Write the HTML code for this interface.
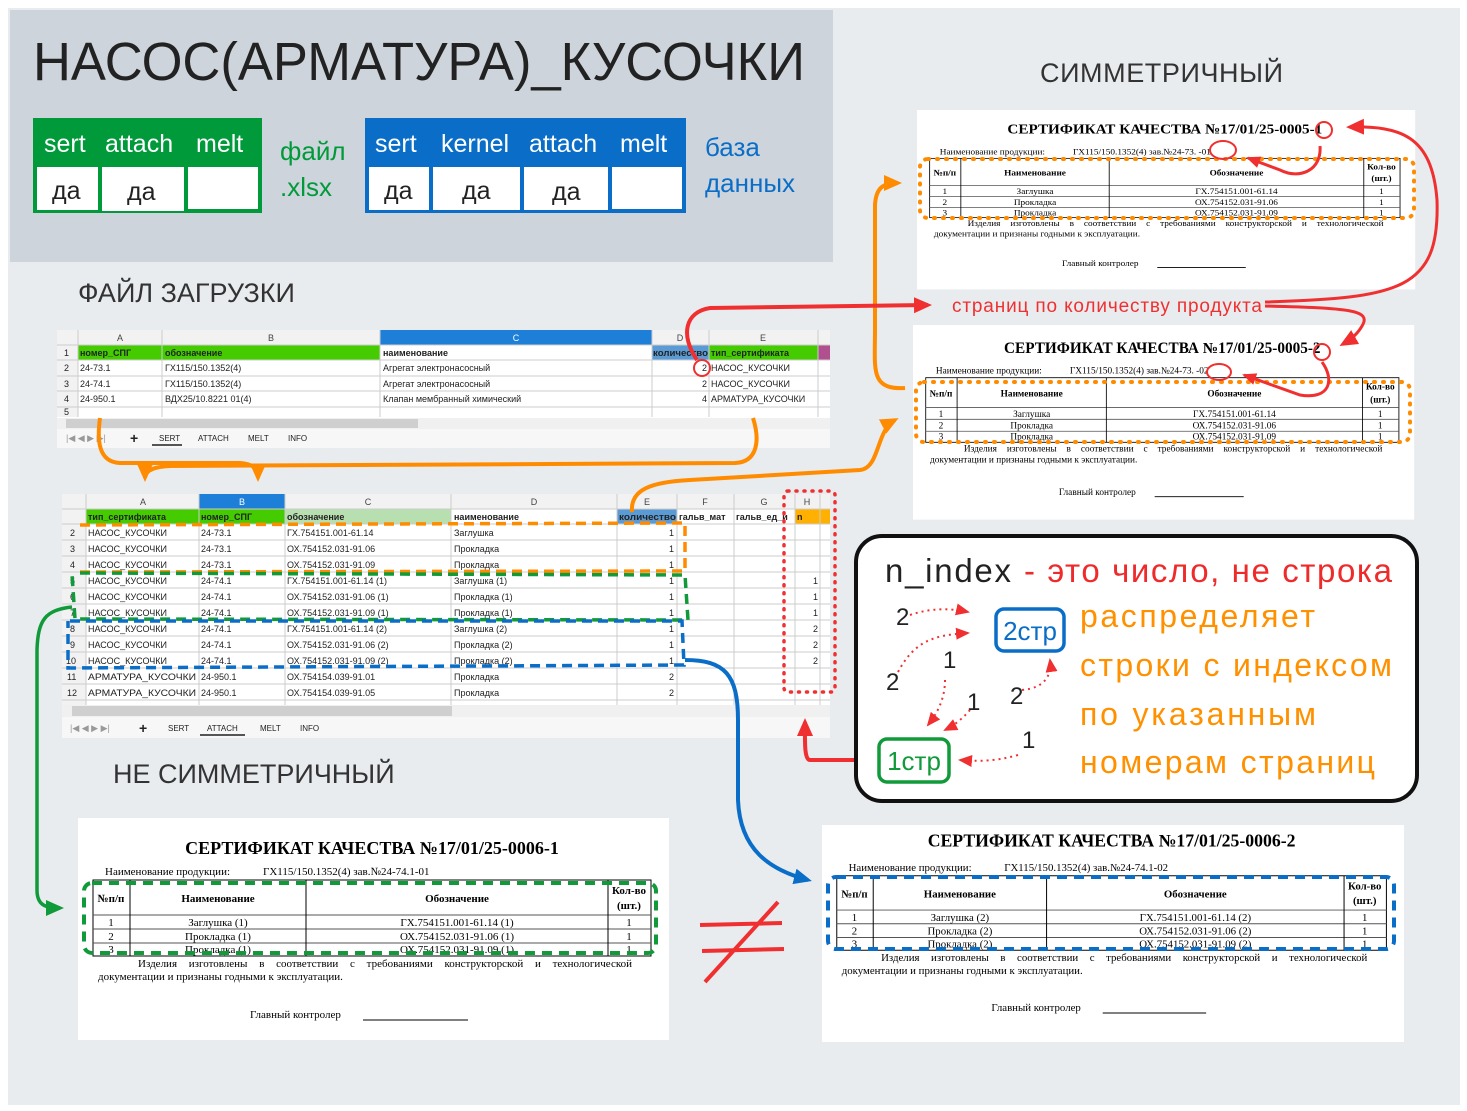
<!DOCTYPE html>
<html><head><meta charset="utf-8"><style>
html,body{margin:0;padding:0;background:#fff;}
svg{display:block;}
text{font-family:"Liberation Sans","DejaVu Sans",sans-serif;}
.s{font-family:"Liberation Serif",serif;}
</style></head><body>
<svg width="1467" height="1111" viewBox="0 0 1467 1111" xmlns="http://www.w3.org/2000/svg">
<defs>
<marker id="ar" markerWidth="20" markerHeight="20" refX="14" refY="8" orient="auto" markerUnits="userSpaceOnUse"><path d="M0,0 L18,8 L0,16 Z" fill="#f03030"/></marker>
<marker id="ar2" markerWidth="20" markerHeight="20" refX="12" refY="6" orient="auto" markerUnits="userSpaceOnUse"><path d="M0,0 L14,6 L0,12 Z" fill="#f03030"/></marker>
<marker id="aor" markerWidth="20" markerHeight="20" refX="14" refY="8" orient="auto" markerUnits="userSpaceOnUse"><path d="M0,0 L18,8 L0,16 Z" fill="#ff8c00"/></marker>
<marker id="ag" markerWidth="20" markerHeight="20" refX="14" refY="8" orient="auto" markerUnits="userSpaceOnUse"><path d="M0,0 L18,8 L0,16 Z" fill="#119a3a"/></marker>
<marker id="ab" markerWidth="20" markerHeight="20" refX="14" refY="8" orient="auto" markerUnits="userSpaceOnUse"><path d="M0,0 L18,8 L0,16 Z" fill="#0a6ec8"/></marker>
<g id="tbl">
<rect x="15" y="62" width="558" height="76" fill="#fff" stroke="#000" stroke-width="1"/>
<line x1="15" y1="97" x2="573" y2="97" stroke="#555"/>
<line x1="15" y1="111" x2="573" y2="111" stroke="#555"/>
<line x1="15" y1="125" x2="573" y2="125" stroke="#555"/>
<line x1="52" y1="62" x2="52" y2="138" stroke="#000"/>
<line x1="228" y1="62" x2="228" y2="138" stroke="#000"/>
<line x1="530" y1="62" x2="530" y2="138" stroke="#000"/>
<text class="s" x="33" y="84" font-size="11" font-weight="bold" text-anchor="middle">№п/п</text>
<text class="s" x="140" y="84" font-size="11" font-weight="bold" text-anchor="middle">Наименование</text>
<text class="s" x="379" y="84" font-size="11" font-weight="bold" text-anchor="middle">Обозначение</text>
<text class="s" x="551" y="76" font-size="11" font-weight="bold" text-anchor="middle">Кол-во</text>
<text class="s" x="551" y="91" font-size="11" font-weight="bold" text-anchor="middle">(шт.)</text>
<text class="s" x="33" y="108" font-size="11" text-anchor="middle">1</text>
<text class="s" x="33" y="122" font-size="11" text-anchor="middle">2</text>
<text class="s" x="33" y="135" font-size="11" text-anchor="middle">3</text>
<text class="s" x="551" y="108" font-size="11" text-anchor="middle">1</text>
<text class="s" x="551" y="122" font-size="11" text-anchor="middle">1</text>
<text class="s" x="551" y="135" font-size="11" text-anchor="middle">1</text>
<text class="s" x="60" y="149" font-size="11" word-spacing="9">Изделия изготовлены в соответствии с требованиями конструкторской и технологической</text>
<text class="s" x="20" y="162" font-size="11">документации и признаны годными к эксплуатации.</text>
<text class="s" x="172" y="200" font-size="11">Главный контролер</text>
<line x1="285" y1="202" x2="390" y2="202" stroke="#000"/>
<text class="s" x="27" y="57" font-size="11">Наименование продукции:</text>
</g>
</defs>

<rect x="0" y="0" width="1467" height="1111" fill="#fff"/>
<rect x="8" y="8" width="1452" height="1097" fill="#e8ecef"/>
<rect x="10" y="10" width="823" height="252" fill="#cdd4db"/>

<text x="33" y="80" font-size="54" fill="#222" textLength="772" lengthAdjust="spacingAndGlyphs">НАСОС(АРМАТУРА)_КУСОЧКИ</text>

<rect x="33" y="118" width="229" height="95" fill="#009a3a"/>
<text x="44" y="152" font-size="25" fill="#fff">sert</text>
<text x="105" y="152" font-size="25" fill="#fff">attach</text>
<text x="196" y="152" font-size="25" fill="#fff">melt</text>
<rect x="37" y="167" width="61" height="43" fill="#fff"/>
<rect x="102" y="167" width="82" height="44" fill="#fff"/>
<rect x="188" y="167" width="70" height="42" fill="#fff"/>
<text x="52" y="199" font-size="25" fill="#222">да</text>
<text x="127" y="200" font-size="25" fill="#222">да</text>
<text x="280" y="160" font-size="26" fill="#009a3a">файл</text>
<text x="280" y="196" font-size="26" fill="#009a3a">.xlsx</text>

<rect x="365" y="118" width="321" height="95" fill="#0a6ec8"/>
<text x="375" y="152" font-size="25" fill="#fff">sert</text>
<text x="441" y="152" font-size="25" fill="#fff">kernel</text>
<text x="529" y="152" font-size="25" fill="#fff">attach</text>
<text x="620" y="152" font-size="25" fill="#fff">melt</text>
<rect x="369" y="167" width="60" height="43" fill="#fff"/>
<rect x="433" y="167" width="87" height="43" fill="#fff"/>
<rect x="524" y="167" width="84" height="43" fill="#fff"/>
<rect x="612" y="167" width="70" height="42" fill="#fff"/>
<text x="384" y="199" font-size="25" fill="#222">да</text>
<text x="462" y="199" font-size="25" fill="#222">да</text>
<text x="552" y="200" font-size="25" fill="#222">да</text>
<text x="705" y="156" font-size="26" fill="#0a6ec8">база</text>
<text x="705" y="192" font-size="26" fill="#0a6ec8">данных</text>

<text x="1040" y="82" font-size="27" fill="#333" textLength="243">СИММЕТРИЧНЫЙ</text>
<text x="78" y="302" font-size="27" fill="#333">ФАЙЛ ЗАГРУЗКИ</text>
<text x="113" y="783" font-size="27" fill="#333">НЕ СИММЕТРИЧНЫЙ</text>

<!-- sheet 1 -->
<g font-size="9" fill="#222">
<rect x="57" y="330" width="773" height="118" fill="#fff"/>
<rect x="57" y="330" width="773" height="15" fill="#f2f2f2"/>
<rect x="380" y="330" width="272" height="15" fill="#1e7fd8"/>
<rect x="78" y="345" width="302" height="15" fill="#44cc00"/>
<rect x="652" y="345" width="57" height="15" fill="#5b9bd5"/>
<rect x="709" y="345" width="109" height="15" fill="#44cc00"/>
<rect x="818" y="345" width="12" height="15" fill="#b0508f"/>
<rect x="57" y="345" width="21" height="72" fill="#f2f2f2"/>
<g stroke="#ccc" stroke-width="1">
<line x1="57" y1="345" x2="830" y2="345"/><line x1="57" y1="360" x2="830" y2="360"/><line x1="57" y1="376" x2="830" y2="376"/><line x1="57" y1="391" x2="830" y2="391"/><line x1="57" y1="407" x2="830" y2="407"/>
<line x1="78" y1="330" x2="78" y2="417"/><line x1="162" y1="330" x2="162" y2="417"/><line x1="380" y1="330" x2="380" y2="417"/><line x1="652" y1="330" x2="652" y2="417"/><line x1="709" y1="330" x2="709" y2="417"/><line x1="818" y1="330" x2="818" y2="417"/>
</g>
<text x="120" y="341" text-anchor="middle" fill="#444">A</text><text x="271" y="341" text-anchor="middle" fill="#444">B</text><text x="516" y="341" text-anchor="middle" fill="#fff">C</text><text x="680" y="341" text-anchor="middle" fill="#444">D</text><text x="763" y="341" text-anchor="middle" fill="#444">E</text>
<text x="64" y="356">1</text><text x="64" y="371">2</text><text x="64" y="387">3</text><text x="64" y="402">4</text><text x="64" y="415">5</text>
<text x="80" y="356" font-weight="bold">номер_СПГ</text><text x="165" y="356" font-weight="bold">обозначение</text><text x="383" y="356" font-weight="bold">наименование</text><text x="653" y="356" font-weight="bold" textLength="55" lengthAdjust="spacingAndGlyphs">количество</text><text x="711" y="356" font-weight="bold">тип_сертификата</text>
<text x="80" y="371">24-73.1</text><text x="165" y="371">ГХ115/150.1352(4)</text><text x="383" y="371">Агрегат электронасосный</text><text x="707" y="371" text-anchor="end">2</text><text x="711" y="371">НАСОС_КУСОЧКИ</text>
<text x="80" y="387">24-74.1</text><text x="165" y="387">ГХ115/150.1352(4)</text><text x="383" y="387">Агрегат электронасосный</text><text x="707" y="387" text-anchor="end">2</text><text x="711" y="387">НАСОС_КУСОЧКИ</text>
<text x="80" y="402">24-950.1</text><text x="165" y="402">ВДХ25/10.8221 01(4)</text><text x="383" y="402">Клапан мембранный химический</text><text x="707" y="402" text-anchor="end">4</text><text x="711" y="402">АРМАТУРА_КУСОЧКИ</text>
<rect x="57" y="418" width="773" height="11" fill="#f0f0f0"/><rect x="66" y="419" width="352" height="9" fill="#cfcfcf"/>
<rect x="57" y="429" width="773" height="19" fill="#f7f7f7"/>
<text x="66" y="441" fill="#999">|◀ ◀ ▶ ▶|</text><text x="130" y="443" font-size="14" font-weight="bold">+</text>
<text x="159" y="441" font-size="8">SERT</text><line x1="152" y1="445" x2="182" y2="445" stroke="#555" stroke-width="2"/>
<text x="198" y="441" font-size="8">ATTACH</text><text x="248" y="441" font-size="8">MELT</text><text x="288" y="441" font-size="8">INFO</text>
</g>

<!-- sheet 2 -->
<g font-size="9" fill="#222">
<rect x="62" y="494" width="768" height="244" fill="#fff"/>
<rect x="62" y="494" width="768" height="15" fill="#f2f2f2"/>
<rect x="199" y="494" width="86" height="15" fill="#1e7fd8"/>
<rect x="86" y="509" width="199" height="15" fill="#44cc00"/>
<rect x="285" y="509" width="166" height="15" fill="#b7dfb0"/>
<rect x="617" y="509" width="60" height="15" fill="#5b9bd5"/>
<rect x="795" y="509" width="35" height="15" fill="#ffb000"/>
<rect x="62" y="509" width="24" height="196" fill="#f2f2f2"/>
<g stroke="#ccc">
<line x1="62" y1="509" x2="830" y2="509"/><line x1="62" y1="524" x2="830" y2="524"/><line x1="62" y1="540" x2="830" y2="540"/><line x1="62" y1="556" x2="830" y2="556"/><line x1="62" y1="572" x2="830" y2="572"/><line x1="62" y1="588" x2="830" y2="588"/><line x1="62" y1="604" x2="830" y2="604"/><line x1="62" y1="620" x2="830" y2="620"/><line x1="62" y1="636" x2="830" y2="636"/><line x1="62" y1="652" x2="830" y2="652"/><line x1="62" y1="668" x2="830" y2="668"/><line x1="62" y1="684" x2="830" y2="684"/><line x1="62" y1="700" x2="830" y2="700"/>
<line x1="86" y1="494" x2="86" y2="705"/><line x1="199" y1="494" x2="199" y2="705"/><line x1="285" y1="494" x2="285" y2="705"/><line x1="451" y1="494" x2="451" y2="705"/><line x1="617" y1="494" x2="617" y2="705"/><line x1="677" y1="494" x2="677" y2="705"/><line x1="734" y1="494" x2="734" y2="705"/><line x1="795" y1="494" x2="795" y2="705"/><line x1="820" y1="494" x2="820" y2="705"/>
</g>
<text x="143" y="505" text-anchor="middle" fill="#444">A</text><text x="242" y="505" text-anchor="middle" fill="#fff">B</text><text x="368" y="505" text-anchor="middle" fill="#444">C</text><text x="534" y="505" text-anchor="middle" fill="#444">D</text><text x="647" y="505" text-anchor="middle" fill="#444">E</text><text x="705" y="505" text-anchor="middle" fill="#444">F</text><text x="764" y="505" text-anchor="middle" fill="#444">G</text><text x="807" y="505" text-anchor="middle" fill="#444">H</text>
<text x="88" y="520" font-weight="bold">тип_сертификата</text><text x="201" y="520" font-weight="bold">номер_СПГ</text><text x="287" y="520" font-weight="bold">обозначение</text><text x="454" y="520" font-weight="bold">наименование</text><text x="619" y="520" font-weight="bold" textLength="57" lengthAdjust="spacingAndGlyphs">количество</text><text x="679" y="520" font-weight="bold">гальв_мат</text><text x="736" y="520" font-weight="bold">гальв_ед_и</text><text x="797" y="520" font-weight="bold">n</text>
<g>
<text x="70" y="536">2</text><text x="88" y="536">НАСОС_КУСОЧКИ</text><text x="201" y="536">24-73.1</text><text x="287" y="536">ГХ.754151.001-61.14</text><text x="454" y="536">Заглушка</text><text x="674" y="536" text-anchor="end">1</text>
<text x="70" y="552">3</text><text x="88" y="552">НАСОС_КУСОЧКИ</text><text x="201" y="552">24-73.1</text><text x="287" y="552">ОХ.754152.031-91.06</text><text x="454" y="552">Прокладка</text><text x="674" y="552" text-anchor="end">1</text>
<text x="70" y="568">4</text><text x="88" y="568">НАСОС_КУСОЧКИ</text><text x="201" y="568">24-73.1</text><text x="287" y="568">ОХ.754152.031-91.09</text><text x="454" y="568">Прокладка</text><text x="674" y="568" text-anchor="end">1</text>
<text x="70" y="584">5</text><text x="88" y="584">НАСОС_КУСОЧКИ</text><text x="201" y="584">24-74.1</text><text x="287" y="584">ГХ.754151.001-61.14 (1)</text><text x="454" y="584">Заглушка (1)</text><text x="674" y="584" text-anchor="end">1</text><text x="818" y="584" text-anchor="end">1</text>
<text x="70" y="600">6</text><text x="88" y="600">НАСОС_КУСОЧКИ</text><text x="201" y="600">24-74.1</text><text x="287" y="600">ОХ.754152.031-91.06 (1)</text><text x="454" y="600">Прокладка (1)</text><text x="674" y="600" text-anchor="end">1</text><text x="818" y="600" text-anchor="end">1</text>
<text x="70" y="616">7</text><text x="88" y="616">НАСОС_КУСОЧКИ</text><text x="201" y="616">24-74.1</text><text x="287" y="616">ОХ.754152.031-91.09 (1)</text><text x="454" y="616">Прокладка (1)</text><text x="674" y="616" text-anchor="end">1</text><text x="818" y="616" text-anchor="end">1</text>
<text x="70" y="632">8</text><text x="88" y="632">НАСОС_КУСОЧКИ</text><text x="201" y="632">24-74.1</text><text x="287" y="632">ГХ.754151.001-61.14 (2)</text><text x="454" y="632">Заглушка (2)</text><text x="674" y="632" text-anchor="end">1</text><text x="818" y="632" text-anchor="end">2</text>
<text x="70" y="648">9</text><text x="88" y="648">НАСОС_КУСОЧКИ</text><text x="201" y="648">24-74.1</text><text x="287" y="648">ОХ.754152.031-91.06 (2)</text><text x="454" y="648">Прокладка (2)</text><text x="674" y="648" text-anchor="end">1</text><text x="818" y="648" text-anchor="end">2</text>
<text x="66" y="664">10</text><text x="88" y="664">НАСОС_КУСОЧКИ</text><text x="201" y="664">24-74.1</text><text x="287" y="664">ОХ.754152.031-91.09 (2)</text><text x="454" y="664">Прокладка (2)</text><text x="674" y="664" text-anchor="end">1</text><text x="818" y="664" text-anchor="end">2</text>
<text x="67" y="680">11</text><text x="88" y="680" textLength="108" lengthAdjust="spacingAndGlyphs">АРМАТУРА_КУСОЧКИ</text><text x="201" y="680">24-950.1</text><text x="287" y="680">ОХ.754154.039-91.01</text><text x="454" y="680">Прокладка</text><text x="674" y="680" text-anchor="end">2</text>
<text x="67" y="696">12</text><text x="88" y="696" textLength="108" lengthAdjust="spacingAndGlyphs">АРМАТУРА_КУСОЧКИ</text><text x="201" y="696">24-950.1</text><text x="287" y="696">ОХ.754154.039-91.05</text><text x="454" y="696">Прокладка</text><text x="674" y="696" text-anchor="end">2</text>
</g>
<rect x="62" y="705" width="768" height="12" fill="#f0f0f0"/><rect x="72" y="706" width="380" height="10" fill="#cfcfcf"/>
<rect x="62" y="717" width="768" height="21" fill="#f7f7f7"/>
<text x="70" y="731" fill="#999">|◀ ◀ ▶ ▶|</text><text x="139" y="733" font-size="14" font-weight="bold">+</text>
<text x="168" y="731" font-size="8">SERT</text><text x="207" y="731" font-size="8">ATTACH</text><line x1="200" y1="735" x2="245" y2="735" stroke="#555" stroke-width="2"/>
<text x="260" y="731" font-size="8">MELT</text><text x="300" y="731" font-size="8">INFO</text>
</g>

<!-- certificates -->
<g transform="translate(917,110) scale(0.843,0.78)">
<rect x="0" y="0" width="591" height="230" fill="#fff"/>
<use href="#tbl"/>
<text class="s" x="294" y="30" font-size="18" font-weight="bold" text-anchor="middle">СЕРТИФИКАТ КАЧЕСТВА №17/01/25-0005-1</text>
<text class="s" x="185" y="57" font-size="11">ГХ115/150.1352(4) зав.№24-73.  -01</text>
<text class="s" x="140" y="108" font-size="11" text-anchor="middle">Заглушка</text><text class="s" x="379" y="108" font-size="11" text-anchor="middle">ГХ.754151.001-61.14</text>
<text class="s" x="140" y="122" font-size="11" text-anchor="middle">Прокладка</text><text class="s" x="379" y="122" font-size="11" text-anchor="middle">ОХ.754152.031-91.06</text>
<text class="s" x="140" y="135" font-size="11" text-anchor="middle">Прокладка</text><text class="s" x="379" y="135" font-size="11" text-anchor="middle">ОХ.754152.031-91.09</text>
</g>
<g transform="translate(913,325) scale(0.848,0.85)">
<rect x="0" y="0" width="591" height="229" fill="#fff"/>
<use href="#tbl"/>
<text class="s" x="294" y="33" font-size="18" font-weight="bold" text-anchor="middle">СЕРТИФИКАТ КАЧЕСТВА №17/01/25-0005-2</text>
<text class="s" x="185" y="57" font-size="11">ГХ115/150.1352(4) зав.№24-73.  -02</text>
<text class="s" x="140" y="108" font-size="11" text-anchor="middle">Заглушка</text><text class="s" x="379" y="108" font-size="11" text-anchor="middle">ГХ.754151.001-61.14</text>
<text class="s" x="140" y="122" font-size="11" text-anchor="middle">Прокладка</text><text class="s" x="379" y="122" font-size="11" text-anchor="middle">ОХ.754152.031-91.06</text>
<text class="s" x="140" y="135" font-size="11" text-anchor="middle">Прокладка</text><text class="s" x="379" y="135" font-size="11" text-anchor="middle">ОХ.754152.031-91.09</text>
</g>
<g transform="translate(78,818)">
<rect x="0" y="0" width="591" height="222" fill="#fff"/>
<use href="#tbl"/>
<text class="s" x="294" y="36" font-size="18" font-weight="bold" text-anchor="middle">СЕРТИФИКАТ КАЧЕСТВА №17/01/25-0006-1</text>
<text class="s" x="185" y="57" font-size="11">ГХ115/150.1352(4) зав.№24-74.1-01</text>
<text class="s" x="140" y="108" font-size="11" text-anchor="middle">Заглушка (1)</text><text class="s" x="379" y="108" font-size="11" text-anchor="middle">ГХ.754151.001-61.14 (1)</text>
<text class="s" x="140" y="122" font-size="11" text-anchor="middle">Прокладка (1)</text><text class="s" x="379" y="122" font-size="11" text-anchor="middle">ОХ.754152.031-91.06 (1)</text>
<text class="s" x="140" y="135" font-size="11" text-anchor="middle">Прокладка (1)</text><text class="s" x="379" y="135" font-size="11" text-anchor="middle">ОХ.754152.031-91.09 (1)</text>
</g>
<rect x="822" y="825" width="582" height="217" fill="#fff"/>
<g transform="translate(822,815) scale(0.985,0.98)">
<use href="#tbl"/>
<text class="s" x="294" y="32" font-size="18" font-weight="bold" text-anchor="middle">СЕРТИФИКАТ КАЧЕСТВА №17/01/25-0006-2</text>
<text class="s" x="185" y="57" font-size="11">ГХ115/150.1352(4) зав.№24-74.1-02</text>
<text class="s" x="140" y="108" font-size="11" text-anchor="middle">Заглушка (2)</text><text class="s" x="379" y="108" font-size="11" text-anchor="middle">ГХ.754151.001-61.14 (2)</text>
<text class="s" x="140" y="122" font-size="11" text-anchor="middle">Прокладка (2)</text><text class="s" x="379" y="122" font-size="11" text-anchor="middle">ОХ.754152.031-91.06 (2)</text>
<text class="s" x="140" y="135" font-size="11" text-anchor="middle">Прокладка (2)</text><text class="s" x="379" y="135" font-size="11" text-anchor="middle">ОХ.754152.031-91.09 (2)</text>
</g>

<!-- dashed outlines -->
<rect x="920" y="159" width="494" height="59" rx="8" fill="none" stroke="#ff8c00" stroke-width="4" stroke-dasharray="1 8" stroke-linecap="round"/>
<rect x="916" y="382" width="494" height="60" rx="8" fill="none" stroke="#ff8c00" stroke-width="4" stroke-dasharray="1 8" stroke-linecap="round"/>
<rect x="84" y="883" width="572" height="70" rx="8" fill="none" stroke="#119a3a" stroke-width="4" stroke-dasharray="10 7"/>
<rect x="828" y="877" width="566" height="72" rx="8" fill="none" stroke="#0a6ec8" stroke-width="4" stroke-dasharray="10 7"/>
<path d="M80,525 L685,523 L685,571 L80,572" fill="none" stroke="#ff8c00" stroke-width="3.5" stroke-dasharray="10 6"/>
<path d="M80,573 L685,575 L688,620 L75,619 L72,574" fill="none" stroke="#119a3a" stroke-width="3.5" stroke-dasharray="10 6"/>
<path d="M70,621 L682,621 L684,665 L68,668 L68,621" fill="none" stroke="#0a6ec8" stroke-width="3.5" stroke-dasharray="10 6"/>
<rect x="784" y="491" width="51" height="201" rx="4" fill="none" stroke="#f03030" stroke-width="3.5" stroke-dasharray="1 7" stroke-linecap="round"/>

<!-- orange connectors -->
<path d="M100,418 C97,440 98,462 120,463 L240,463 C255,464 258,470 258,478" fill="none" stroke="#ff8c00" stroke-width="4" marker-end="url(#aor)"/>
<path d="M753,418 C760,440 758,462 735,463 L170,466 C150,467 145,472 145,478" fill="none" stroke="#ff8c00" stroke-width="4" marker-end="url(#aor)"/>
<path d="M632,512 C630,490 650,482 690,480 L860,470 C880,468 876,430 895,420" fill="none" stroke="#ff8c00" stroke-width="4" marker-end="url(#aor)"/>
<path d="M905,388 C870,390 875,370 875,330 L875,205 C876,186 885,183 898,183" fill="none" stroke="#ff8c00" stroke-width="4" marker-end="url(#aor)"/>

<!-- red connectors -->
<circle cx="702" cy="368" r="8" fill="none" stroke="#f03030" stroke-width="2"/>
<path d="M697,360 C680,335 685,312 710,308 L928,305" fill="none" stroke="#f03030" stroke-width="4" marker-end="url(#ar)"/>
<text x="952" y="312" font-size="19" fill="#f03030" textLength="310">страниц по количеству продукта</text>
<path d="M1265,302 C1400,298 1440,290 1437,200 C1432,135 1400,126 1350,127" fill="none" stroke="#f03030" stroke-width="3" marker-end="url(#ar)"/>
<path d="M1265,306 C1350,308 1372,310 1362,326 C1357,335 1350,340 1343,344" fill="none" stroke="#f03030" stroke-width="3" marker-end="url(#ar)"/>
<circle cx="1324" cy="130" r="8" fill="none" stroke="#f03030" stroke-width="2"/>
<ellipse cx="1223" cy="150" rx="13" ry="9" fill="none" stroke="#f03030" stroke-width="2"/>
<path d="M1320,146 C1322,170 1300,180 1280,170 L1248,158" fill="none" stroke="#f03030" stroke-width="3" marker-end="url(#ar2)"/>
<circle cx="1322" cy="352" r="8" fill="none" stroke="#f03030" stroke-width="2"/>
<ellipse cx="1219" cy="372" rx="12" ry="8" fill="none" stroke="#f03030" stroke-width="2"/>
<path d="M1322,362 C1335,380 1330,400 1300,395 L1244,375" fill="none" stroke="#f03030" stroke-width="3" marker-end="url(#ar2)"/>
<path d="M855,760 L810,760 C804,760 805,740 805,722" fill="none" stroke="#f03030" stroke-width="4" marker-end="url(#ar)"/>

<!-- green & blue connectors -->
<path d="M72,607 C45,610 38,620 37,650 L37,890 C37,905 45,908 60,908" fill="none" stroke="#119a3a" stroke-width="3.5" marker-end="url(#ag)"/>
<path d="M685,660 C725,660 738,675 738,720 L738,800 C740,850 770,870 808,880" fill="none" stroke="#0a6ec8" stroke-width="4" marker-end="url(#ab)"/>

<path d="M700,925 L782,923 M702,951 L784,949 M778,902 L705,982" stroke="#f03030" stroke-width="4" fill="none"/>

<!-- n_index box -->
<rect x="856" y="536" width="561" height="265" rx="26" fill="#fff" stroke="#111" stroke-width="4"/>
<text x="885" y="582" font-size="33" fill="#222" textLength="126">n_index</text>
<text x="1024" y="582" font-size="33" fill="#ee2a2a" textLength="368">- это число, не строка</text>
<g font-size="32" fill="#ff9000">
<text x="1080" y="627" textLength="235">распределяет</text>
<text x="1080" y="676" textLength="312">строки с индексом</text>
<text x="1080" y="725" textLength="236">по указанным</text>
<text x="1080" y="773" textLength="295">номерам страниц</text>
</g>
<rect x="996" y="609" width="68" height="42" rx="8" fill="#fff" stroke="#0a6ec8" stroke-width="3.5"/>
<text x="1030" y="640" font-size="26" fill="#0a6ec8" text-anchor="middle">2стр</text>
<rect x="879" y="739" width="70" height="43" rx="8" fill="#fff" stroke="#119a3a" stroke-width="3.5"/>
<text x="914" y="770" font-size="26" fill="#119a3a" text-anchor="middle">1стр</text>
<g font-size="24" fill="#222">
<text x="896" y="625">2</text><text x="886" y="690">2</text><text x="943" y="668">1</text><text x="967" y="710">1</text><text x="1010" y="704">2</text><text x="1022" y="748">1</text>
</g>
<g fill="none" stroke="#f03030" stroke-width="2" stroke-dasharray="2 4">
<path d="M910,615 C930,608 950,608 968,612" marker-end="url(#ar2)"/>
<path d="M898,672 C915,640 935,635 968,633" marker-end="url(#ar2)"/>
<path d="M945,680 C945,695 940,710 928,725" marker-end="url(#ar2)"/>
<path d="M970,710 C963,718 955,725 945,730" marker-end="url(#ar2)"/>
<path d="M1022,690 C1045,688 1052,675 1050,660" marker-end="url(#ar2)"/>
<path d="M1018,755 C1000,760 985,762 960,760" marker-end="url(#ar2)"/>
</g>
</svg>
</body></html>
